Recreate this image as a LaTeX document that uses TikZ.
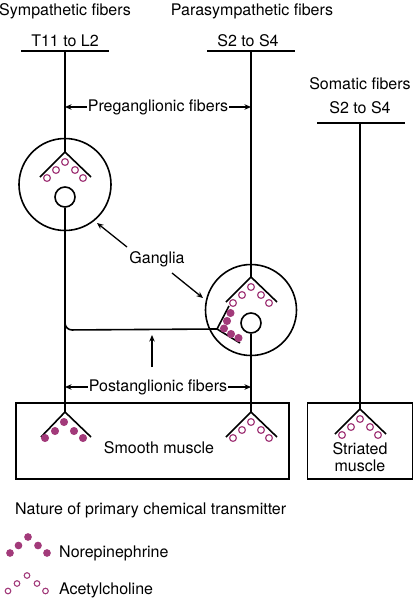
\documentclass[tikz,border=0pt]{standalone}
\usepackage{fontspec}
\setmainfont{TeX Gyre Heros}
\usetikzlibrary{arrows.meta,calc}
\definecolor{trans}{RGB}{162,58,122}
\tikzset{
  fib/.style={line width=1.6pt, line cap=butt},
  odot/.style={circle, draw=trans, line width=1.2pt, fill=white, minimum size=6.8pt, inner sep=0pt},
  sodot/.style={circle, draw=trans, line width=1.1pt, fill=white, minimum size=5.6pt, inner sep=0pt},
  fdot/.style={circle, fill=trans, draw=trans, line width=1pt, minimum size=7pt, inner sep=0pt},
  lbl/.style={font=\fontsize{16}{18.5}\selectfont, inner sep=0pt},
  arr/.style={-{Stealth[length=6.5pt,width=5.5pt]}, line width=1.3pt},
  ring/.style={circle, draw, line width=1.6pt, inner sep=0pt},
  yopen/.pic={
    \draw[fib] (-25,25) -- (0,0) -- (26,25);
    \foreach \a/\b in {-18/26,-9/18,0/10,10/18,18/26}
      \node[odot] at (\a,\b) {};
  },
  yfill/.pic={
    \draw[fib] (-24,25) -- (0,0) -- (26,25);
    \foreach \a/\b in {-20/26,-10/19,-1/10,9/19,18/26}
      \node[fdot] at (\a,\b) {};
  }
}
\begin{document}
\begin{tikzpicture}[x=1pt,y=-1pt]
\useasboundingbox (0,0) rectangle (415,600);

% headings
\node[lbl] (symh) at (65,11) {Sympathetic fibers};
\node[lbl] (parh) at (252,11) {Parasympathetic fibers};
\node[lbl] (somh) at (360,84) {Somatic fibers};
\node[lbl] (symseg) at (65,41) {T11 to L2};
\node[lbl] (parseg) at (248,41) {S2 to S4};
\node[lbl] (somseg) at (360,108) {S2 to S4};

% segment bars
\draw[fib] (21,51) -- (109,51);
\draw[fib] (207,51) -- (295,51);
\draw[fib] (317,123) -- (405,123);

% key points
\coordinate (symtop) at (65,51);
\coordinate (partop) at (251,51);
\coordinate (somtop) at (360,123);
\coordinate (g1apex) at (65,152);
\coordinate (g2apex) at (251,277);
\coordinate (sm1apex) at (65,412);
\coordinate (sm2apex) at (251,412);
\coordinate (stapex) at (360,409);
\coordinate (g2fapex) at (217,329);
\coordinate (bend) at (65,330);

% ganglia
\node[ring, minimum size=92pt] (g1) at (65,184.5) {};
\node[ring, minimum size=20pt] (c1) at (65,197) {};
\node[ring, minimum size=91pt] (g2) at (251,310) {};
\node[ring, minimum size=20pt] (c2) at (251,323) {};

% effector boxes
\node[draw, line width=1.6pt, minimum width=273pt, minimum height=76pt, inner sep=0pt] (smooth) at (152.5,441) {};
\node[draw, line width=1.6pt, minimum width=105pt, minimum height=76pt, inner sep=0pt] (striated) at (360,441) {};
\node[lbl] (smtxt) at (159,448) {Smooth muscle};
\node[lbl, align=center] (sttxt) at (360,457) {Striated\\[-1pt]muscle};

% fibers
\draw[fib] (symtop) -- (g1apex);
\draw[fib] (c1.south) -- (sm1apex);
\draw[fib, rounded corners=7pt] (c1.south |- 0,300) -- (bend) -- (g2fapex);
\draw[fib] (partop) -- (g2apex);
\draw[fib] (c2.south) -- (sm2apex);
\draw[fib] (somtop) -- (stapex);

% endings
\pic at (g1apex) {yopen};
\pic at (g2apex) {yopen};
\pic at (sm1apex) {yfill};
\pic at (sm2apex) {yopen};
\pic at (stapex) {yopen};

% rotated noradrenergic ending in ganglion 2
\draw[fib] (229,306) -- (g2fapex) -- (240,343);
\foreach \a/\b in {230.5/313,227/321,224/328.5,231/334,238.5/338}
  \node[fdot] at (\a,\b) {};

% preganglionic / postganglionic labels
\node[lbl, inner xsep=1pt] (pre) at (158,107) {Preganglionic fibers};
\draw[arr] (pre.west) -- (pre.west -| symtop);
\draw[arr] (pre.east) -- (pre.east -| partop);
\node[lbl, inner xsep=1pt] (post) at (158,387) {Postanglionic fibers};
\draw[arr] (post.west) -- (post.west -| symtop);
\draw[arr] (post.east) -- (post.east -| partop);

% ganglia label
\node[lbl] (gang) at (157,259) {Ganglia};
\coordinate (ga1s) at (127,247);
\coordinate (ga1e) at (97,223);
\coordinate (ga2s) at (172,273);
\coordinate (ga2e) at (203,298);
\draw[arr] (ga1s) -- (ga1e);
\draw[arr] (ga2s) -- (ga2e);
\coordinate (upS) at (152,367);
\coordinate (upE) at (152,335);
\draw[arr] (upS) -- (upE);

% legend
\node[lbl, anchor=west] (legh) at (15,510) {Nature of primary chemical transmitter};
\foreach \a/\b in {10/553,18.5/545.5,28/537,38/545.5,47/553}
  \node[fdot, minimum size=6.6pt] at (\a,\b) {};
\node[lbl, anchor=west] (ne) at (59,553) {Norepinephrine};
\foreach \a/\b in {8/591,17/583.5,27/575.5,37/583.5,45.5/591}
  \node[sodot] at (\a,\b) {};
\node[lbl, anchor=west] (ach) at (59,590) {Acetylcholine};
\end{tikzpicture}
\end{document}
